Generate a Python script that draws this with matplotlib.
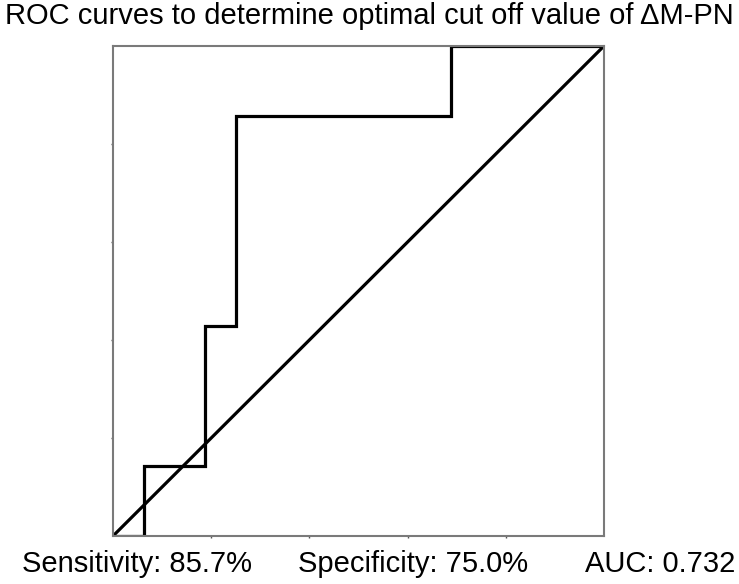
import matplotlib

matplotlib.use("Agg")
import matplotlib.pyplot as plt  # noqa: E402

# ROC points: 16 negatives, 7 positives
fpr = [0, 1 / 16, 1 / 16, 3 / 16, 3 / 16, 4 / 16, 4 / 16, 11 / 16, 11 / 16, 1]
tpr = [0, 0, 1 / 7, 1 / 7, 3 / 7, 3 / 7, 6 / 7, 6 / 7, 1, 1]
ref_line = [0, 1]

title = "ROC curves to determine optimal cut off value of \u0394M-PN"
stats = ["Sensitivity: 85.7%", "Specificity: 75.0%", "AUC: 0.732"]

plt.rcParams["font.family"] = ["Liberation Sans", "DejaVu Sans"]

fig = plt.figure(figsize=(7.39, 5.84), dpi=100)
ax = fig.add_axes([113 / 739, 1 - 536 / 584, 491 / 739, 490 / 584])

ax.plot(fpr, tpr, color="black", lw=2.3, solid_joinstyle="miter")
ax.plot(ref_line, ref_line, color="black", lw=2.3)

ax.set_xlim(0, 1)
ax.set_ylim(0, 1)
ax.set_xticks([0.2, 0.4, 0.6, 0.8])
ax.set_yticks([0.2, 0.4, 0.6, 0.8])
ax.tick_params(length=1.5, width=1, color="#555555", direction="out",
               labelbottom=False, labelleft=False)
for sp in ax.spines.values():
    sp.set_color("#7a7a7a")
    sp.set_linewidth(1.5)

fig.text(369 / 739, 1 - 16 / 584, title, ha="center", va="center", fontsize=21)
xs = [137 / 739, 413 / 739, 660 / 739]
for x, s in zip(xs, stats):
    fig.text(x, 1 - 564 / 584, s, ha="center", va="center", fontsize=21)

fig.savefig("out.png", dpi=100)
